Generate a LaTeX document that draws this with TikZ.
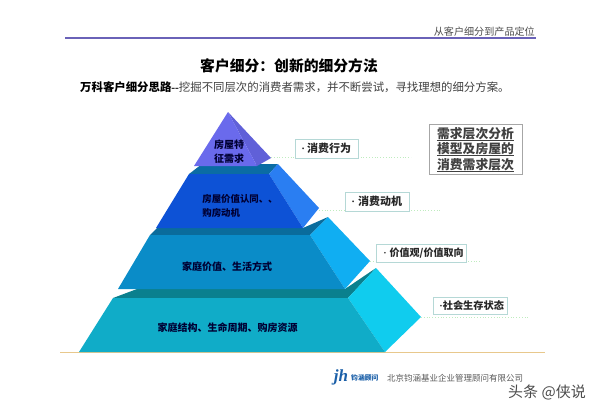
\documentclass[tikz,border=0pt]{standalone}
\usepackage{fontspec}
\setmainfont{Noto Sans CJK SC}
\newfontfamily\lat{Liberation Serif}
\newcommand{\ulbox}[1]{\leavevmode\rlap{\rule[-2.2pt]{77pt}{0.9pt}}#1}
\definecolor{tagedge}{HTML}{B5D8D6}
\definecolor{headrule}{HTML}{6A62B8}
\definecolor{baserule}{HTML}{E8C88C}
\definecolor{logoblue}{HTML}{1A5FA8}
\definecolor{ta}{HTML}{6A6AEC}\definecolor{tas}{HTML}{6060D8}
\definecolor{tb}{HTML}{0D52D6}\definecolor{tbs}{HTML}{2A7EF2}\definecolor{tbb}{HTML}{0B6CA4}
\definecolor{tc}{HTML}{0A8CC8}\definecolor{tcs}{HTML}{10AEF2}\definecolor{tcb}{HTML}{0A6C9C}
\definecolor{td}{HTML}{10ACC8}\definecolor{tds}{HTML}{10CCEE}\definecolor{tdb}{HTML}{0A808E}
\tikzset{
  lbl/.style={draw=tagedge,line width=0.8pt,fill=white,inner sep=0pt,anchor=west,font=\bfseries\fontsize{11}{12}\selectfont,text=black!85},
  tiertext/.style={font=\bfseries\fontsize{10}{14.3}\selectfont,text=black!80!blue,align=left},
  guide/.style={dotted,line width=0.8pt,draw=black!30!green!25!white},
}
\begin{document}
\begin{tikzpicture}[x=1pt,y=-1pt]
\useasboundingbox (0,0) rectangle (600,400);
% rules
\draw[line width=1.2pt,draw=headrule] (65,38) -- (536,38);
\draw[line width=1.2pt,draw=baserule] (60,352.5) -- (545,352.5);
\node[anchor=south east,inner sep=0pt,font=\fontsize{10.1}{11}\selectfont,text=black!70] (hd) at (535,37) {从客户细分到产品定位};
\node[inner sep=0pt,font=\bfseries\fontsize{14.8}{18}\selectfont] (title) at (289,66) {客户细分：创新的细分方法};
\node[anchor=west,inner sep=0pt,font=\fontsize{11.4}{13}\selectfont,text=black!75] (sub) at (80,87.5) {{\bfseries\color{black}万科客户细分思路{\lat --}}挖掘不同层次的消费者需求，并不断尝试，寻找理想的细分方案。};
% tier 4
\fill[tdb] (113,298) -- (137,289) -- (345,289) -- (376,268) -- (348,298) -- cycle;
\fill[tds] (348,298) -- (376,268) -- (421,317) -- (385,352) -- cycle;
\fill[td] (113,298) -- (348,298) -- (385,352) -- (79,352) -- cycle;
% tier 3
\fill[tcb] (150,235) -- (157,228) -- (303,228) -- (328,217) -- (310,235) -- cycle;
\fill[tcs] (310,235) -- (328,217) -- (370,261) -- (345,289) -- cycle;
\fill[tc] (150,235) -- (310,235) -- (345,289) -- (118,289) -- cycle;
% tier 2
\fill[tbb] (189,174) -- (202,164) -- (278,164) -- (269,174) -- cycle;
\fill[tbs] (269,174) -- (278,164) -- (319,208) -- (303,228) -- cycle;
\fill[tb] (189,174) -- (269,174) -- (303,228) -- (156,228) -- cycle;
% tier 1
\fill[tas] (228,112) -- (271,158) -- (257,166) -- cycle;
\fill[ta] (228,112) -- (257,166) -- (194,166) -- cycle;
% tier labels
\node[tiertext,align=center] (t1) at (229,152) {房屋特\\征需求};
\node[tiertext,font=\bfseries\fontsize{9.4}{14}\selectfont] (t2) at (240,206) {房屋价值认同、、\\购房动机};
\node[tiertext] (t3) at (227,267) {家庭价值、生活方式};
\node[tiertext] (t4) at (227.5,328) {家庭结构、生命周期、购房资源};
% guides
\coordinate (p1) at (271,157.5); \coordinate (q1) at (411,157.5);
\coordinate (p2) at (319,210); \coordinate (q2) at (440,210);
\coordinate (p3) at (370,261); \coordinate (q3) at (480,261);
\coordinate (p4) at (421,317); \coordinate (q4) at (529,317);
\draw[guide] (p1) -- (q1); \draw[guide] (p2) -- (q2);
\draw[guide] (p3) -- (q3); \draw[guide] (p4) -- (q4);
% tags
\node[lbl,minimum width=63pt,minimum height=19pt,text width=63pt] (l1) at (295,148.5) {\hspace{6pt}{\lat·}\hspace{2pt}消费行为};
\node[lbl,minimum width=64pt,minimum height=19pt,text width=64pt] (l2) at (345,201.5) {\hspace{6pt}{\lat·}\hspace{3pt}消费动机};
\node[lbl,minimum width=90pt,minimum height=18pt,text width=90pt,font=\bfseries\fontsize{10}{12}\selectfont] (l3) at (376,253) {\hspace{7pt}{\lat·}\hspace{3pt}价值观/价值取向};
\node[lbl,minimum width=74pt,minimum height=17pt,text width=74pt,font=\bfseries\fontsize{10.2}{12}\selectfont] (l4) at (433,305.5) {\hspace{6pt}{\lat·}社会生存状态};
\node[draw=black!35,line width=0.8pt,inner xsep=8pt,inner ysep=3pt,font=\bfseries\fontsize{12.8}{15.5}\selectfont,align=center,text=black!75,anchor=center] (box) at (475.5,149.5) {\ulbox{需求层次分析}\\\ulbox{模型及房屋的}\\\ulbox{消费需求层次}};
% footer
\node[inner sep=0pt,font=\bfseries\itshape\fontsize{17}{17}\selectfont,text=logoblue] (logo) at (341,377) {{\lat jh}};
\node[anchor=west,inner sep=0pt,font=\bfseries\fontsize{6.8}{7}\selectfont,text=logoblue] (lt) at (351,378) {钧涵顾问};
\node[anchor=west,inner sep=0pt,font=\fontsize{8.5}{10}\selectfont,text=black!65] (co) at (387,378) {北京钧涵基业企业管理顾问有限公司};
\node[anchor=west,inner sep=0pt,font=\fontsize{15}{17}\selectfont,text=black!70] (wm) at (508,392) {头条 @侠说};
\end{tikzpicture}
\end{document}
